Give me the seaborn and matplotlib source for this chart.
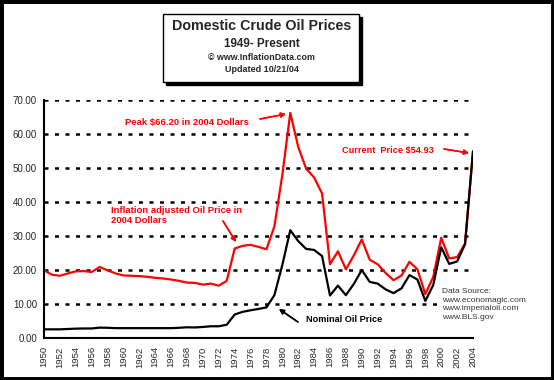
import pandas as pd
import matplotlib.pyplot as plt
import seaborn as sns
from matplotlib.patches import Rectangle

# Domestic crude oil prices, 1950-2004
years = list(range(1950, 2005))
nominal = [2.55, 2.55, 2.55, 2.65, 2.75, 2.80, 2.80, 3.05, 3.00, 2.90,
           2.90, 2.90, 2.90, 2.90, 2.90, 2.90, 2.90, 3.00, 3.15, 3.10,
           3.25, 3.45, 3.45, 3.90, 6.90, 7.70, 8.15, 8.55, 9.00, 12.60,
           21.50, 31.70, 28.50, 26.20, 25.90, 24.10, 12.50, 15.40, 12.60, 15.90,
           20.00, 16.50, 16.00, 14.30, 13.20, 14.60, 18.50, 17.20, 10.90, 15.60,
           26.70, 21.80, 22.50, 27.60, 54.93]
adjusted = [19.90, 18.60, 18.30, 19.00, 19.60, 19.70, 19.40, 20.90, 19.90, 19.00,
            18.40, 18.30, 18.20, 18.00, 17.70, 17.50, 17.20, 16.80, 16.30, 16.20,
            15.70, 16.00, 15.40, 16.80, 26.30, 27.10, 27.40, 26.80, 26.10, 32.80,
            48.00, 66.20, 56.20, 49.80, 47.20, 42.50, 21.70, 25.50, 20.20, 24.30,
            29.00, 23.00, 21.70, 19.10, 17.00, 18.40, 22.40, 20.20, 12.90, 18.00,
            29.50, 23.40, 23.80, 27.80, 54.93]

df = pd.DataFrame({'Year': years, 'Nominal': nominal, 'Adjusted': adjusted})

W, H = 554, 380


def fx(x):
    return x / W


def fy(y):
    return 1 - y / H


sns.set_style('white')
plt.rcParams['font.family'] = ['Liberation Sans', 'DejaVu Sans']

fig = plt.figure(figsize=(W / 100, H / 100), dpi=100)
ax = fig.add_axes([fx(44), fy(338), (473 - 44) / W, (338 - 100) / H])

# dashed horizontal grid
for v in range(10, 71, 10):
    ax.axhline(v, color='black', lw=1.8, ls=(0, (1.6, 2.6)), zorder=0)

sns.lineplot(data=df, x='Year', y='Adjusted', color='#ff0000', lw=1.6, ax=ax)
sns.lineplot(data=df, x='Year', y='Nominal', color='black', lw=1.6, ax=ax)

ax.set_xlim(1950, 2004)
ax.set_ylim(0, 70)
ax.set_xlabel('')
ax.set_ylabel('')
ax.set_xticks([y for y in years if y % 2 == 0])
ax.set_xticks([y for y in years if y % 2 == 1], minor=True)
ax.set_xticklabels([str(y) for y in years if y % 2 == 0], rotation=90)
ax.set_yticks(range(0, 71, 10))
ax.set_yticklabels(['%.2f' % v for v in range(0, 71, 10)])
ax.tick_params(axis='both', which='both', direction='out', length=3,
               width=1.2, color='black', labelsize=7, pad=2)
ax.tick_params(axis='x', labelsize=6.8, pad=3)
for s in ['top', 'right']:
    ax.spines[s].set_visible(False)
for s in ['left', 'bottom']:
    ax.spines[s].set_color('black')
    ax.spines[s].set_linewidth(1.5)

# title box with drop shadow
fig.patches.append(Rectangle((fx(166), fy(85)), (359 - 163) / W, (82 - 14) / H,
                             transform=fig.transFigure, facecolor='black',
                             edgecolor='black', zorder=1))
fig.patches.append(Rectangle((fx(163), fy(82)), (359 - 163) / W, (82 - 14) / H,
                             transform=fig.transFigure, facecolor='white',
                             edgecolor='black', lw=1, zorder=2))
fig.text(fx(262), fy(26), 'Domestic Crude Oil Prices', ha='center', va='center',
         fontsize=10.3, fontweight='bold', zorder=3)
fig.text(fx(262), fy(44), '1949- Present', ha='center', va='center',
         fontsize=8.4, fontweight='bold', zorder=3)
fig.text(fx(262), fy(57), '\u00a9 www.InflationData.com', ha='center',
         va='center', fontsize=6.4, fontweight='bold', zorder=3)
fig.text(fx(262), fy(70), 'Updated 10/21/04', ha='center', va='center',
         fontsize=6.5, fontweight='bold', zorder=3)

# annotations
red = '#ff0000'
fig.text(fx(125), fy(122), 'Peak $66.20 in 2004 Dollars', color=red,
         fontsize=6.8, fontweight='bold', va='center')
fig.text(fx(342), fy(151), 'Current  Price $54.93', color=red,
         fontsize=6.6, fontweight='bold', va='center')
fig.text(fx(111), fy(206), 'Inflation adjusted Oil Price in\n2004 Dollars',
         color=red, fontsize=6.8, fontweight='bold', va='top',
         linespacing=1.15)
fig.text(fx(306), fy(320), 'Nominal Oil Price', color='black',
         fontsize=6.6, fontweight='bold', va='center')
fig.text(fx(442), fy(288), 'Data Source:\nwww.economagic.com\n'
         'www.imperialoil.com\nwww.BLS.gov', color='#333333',
         fontsize=6, va='top', linespacing=1.35, zorder=5,
         bbox=dict(facecolor='white', edgecolor='none', pad=1))

arrows = [((260, 119), (286, 114), red),
          ((444, 149), (469, 153), red),
          ((223, 221), (236, 242), red),
          ((298, 322), (279, 309), 'black')]
for tail, tip, c in arrows:
    fig.add_artist(plt.annotate('', xy=(fx(tip[0]), fy(tip[1])),
                                xytext=(fx(tail[0]), fy(tail[1])),
                                xycoords='figure fraction',
                                textcoords='figure fraction',
                                arrowprops=dict(arrowstyle='-|>', color=c,
                                                lw=1.1, mutation_scale=7,
                                                shrinkA=0, shrinkB=0)))

# outer black frame
fig.patches.append(Rectangle((0, 0), 1, 1, transform=fig.transFigure,
                             fill=False, edgecolor='black', lw=5, zorder=10))

plt.savefig('out.png', dpi=100)
